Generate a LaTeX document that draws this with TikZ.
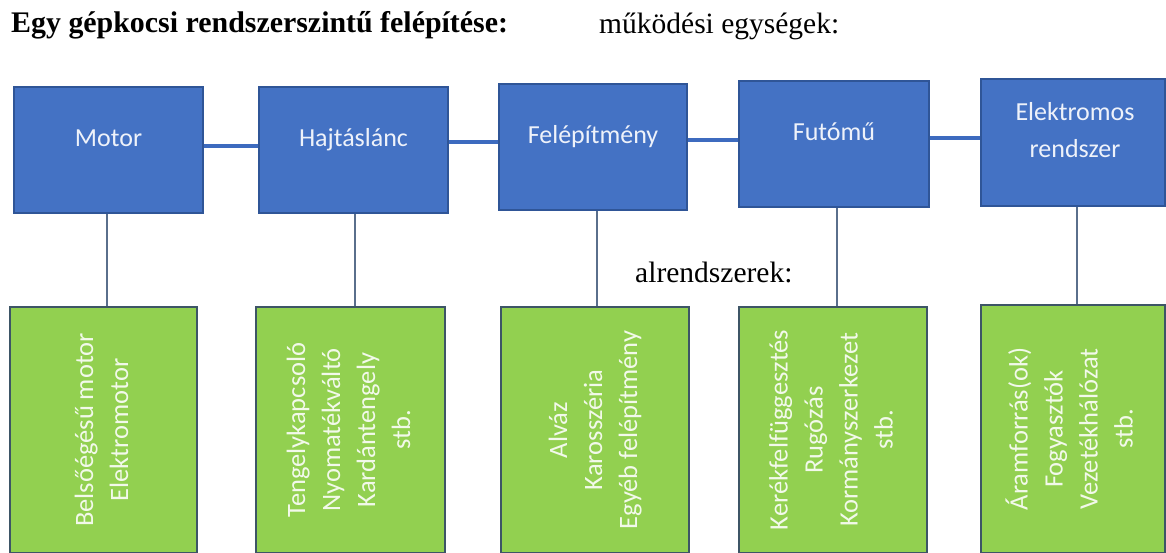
\documentclass[tikz,border=0pt]{standalone}
\usepackage{fontspec}
\setmainfont{Carlito}
\newfontfamily\tnr{Liberation Serif}
\definecolor{bfill}{HTML}{4472C4}
\definecolor{bdraw}{HTML}{2F5597}
\definecolor{gfill}{HTML}{92D050}
\definecolor{gdraw}{HTML}{3D5566}
\definecolor{btext}{HTML}{EEF2FA}
\definecolor{gtext}{HTML}{F2F9EA}
\definecolor{vline}{HTML}{5A6F8C}
\definecolor{hline}{HTML}{3D6BBF}
\begin{document}
\begin{tikzpicture}[x=1pt,y=-1pt,
  unit/.style={draw=bdraw, fill=bfill, line width=2pt, inner sep=0pt, minimum height=126pt},
  unittext/.style={text=btext, inner sep=0pt, font=\fontsize{26}{36.5}\selectfont, align=center},
  sub/.style={draw=gdraw, fill=gfill, line width=2pt, text=gtext, inner sep=0pt,
              font=\fontsize{26.5}{35}\selectfont},
  hconn/.style={draw=hline, line width=4pt},
  vconn/.style={draw=vline, line width=1.1pt},
  heading/.style={font=\tnr\fontsize{29.5}{34}\selectfont, anchor=base west, inner sep=0pt}]
\useasboundingbox[fill=white] (0,0) rectangle (1166,552);

% headings
\node[heading, font=\tnr\fontsize{29.9}{34}\selectfont] (title) at (11,32) {\bfseries Egy gépkocsi rendszerszintű felépítése:};
\node[heading] (units) at (599,33) {működési egységek:};
\node[heading] (subs) at (635,282) {alrendszerek:};

% functional units
\node[unit, minimum width=189pt] (m1) at (108.5,150) {};
\node[unit, minimum width=189pt] (m2) at (353.5,150) {};
\node[unit, minimum width=188pt] (m3) at (593,147) {};
\node[unit, minimum width=190pt] (m4) at (834,144) {};
\node[unit, minimum width=184pt, minimum height=127pt] (m5) at (1073,142.5) {};

\node[unittext, anchor=base] (t1) at (108.5,146.7) {Motor};
\node[unittext, anchor=base] (t2) at (353.5,146.7) {Hajtáslánc};
\node[unittext, anchor=base] (t3) at (593,143.3) {Felépítmény};
\node[unittext, anchor=base] (t4) at (834,140) {Futómű};
\node[unittext, anchor=center] (t5) at (1075,130) {Elektromos\\rendszer};

% subsystems
\node[sub, minimum width=187pt, minimum height=246pt] (s1) at (103.5,430)
  {\rotatebox{90}{\begin{tabular}{@{}c@{}}Belsőégésű motor\\Elektromotor\end{tabular}}};
\node[sub, minimum width=189pt, minimum height=246pt] (s2) at (350.5,430)
  {\rotatebox{90}{\begin{tabular}{@{}c@{}}Tengelykapcsoló\\Nyomatékváltó\\Kardántengely\\stb.\end{tabular}}};
\node[sub, minimum width=188pt, minimum height=246pt] (s3) at (595,430)
  {\rotatebox{90}{\begin{tabular}{@{}c@{}}Alváz\\Karosszéria\\Egyéb felépítmény\end{tabular}}};
\node[sub, minimum width=188pt, minimum height=246pt] (s4) at (833,430)
  {\rotatebox{90}{\begin{tabular}{@{}c@{}}Kerékfelfüggesztés\\Rugózás\\Kormányszerkezet\\stb.\end{tabular}}};
\node[sub, minimum width=184pt, minimum height=248pt] (s5) at (1073,429)
  {\rotatebox{90}{\begin{tabular}{@{}c@{}}Áramforrás(ok)\\Fogyasztók\\Vezetékhálózat\\stb.\end{tabular}}};

% horizontal connectors
\draw[hconn] ([yshift=4pt]m1.east) -- ([yshift=4pt]m2.west);
\draw[hconn] ([yshift=8pt]m2.east) -- ([yshift=5pt]m3.west);
\draw[hconn] ([yshift=7pt]m3.east) -- ([yshift=4pt]m4.west);
\draw[hconn] ([yshift=6pt]m4.east) -- ([yshift=4.5pt]m5.west);

% vertical connectors
\draw[vconn] ([xshift=-1.5pt]m1.south) -- ([xshift=-1.5pt]m1.south |- s1.north);
\draw[vconn] ([xshift=1.5pt]m2.south) -- ([xshift=1.5pt]m2.south |- s2.north);
\draw[vconn] ([xshift=4pt]m3.south) -- ([xshift=4pt]m3.south |- s3.north);
\draw[vconn] ([xshift=3pt]m4.south) -- ([xshift=3pt]m4.south |- s4.north);
\draw[vconn] ([xshift=4pt]m5.south) -- ([xshift=4pt]m5.south |- s5.north);
\end{tikzpicture}
\end{document}
